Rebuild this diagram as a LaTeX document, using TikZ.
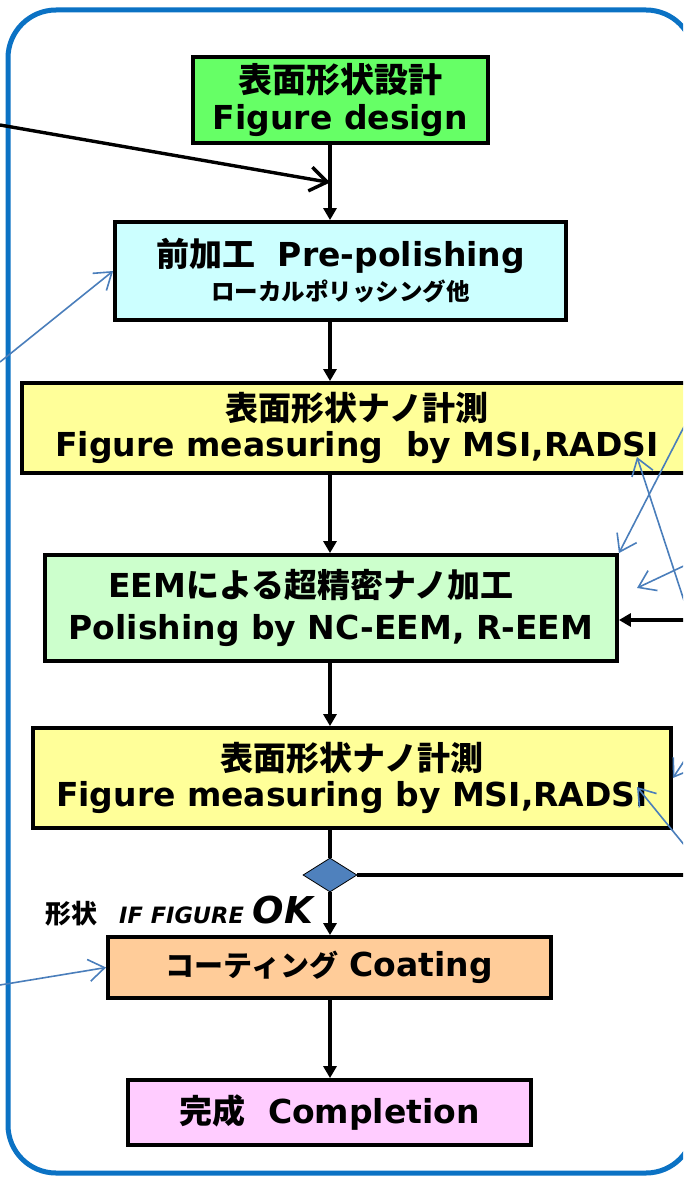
\documentclass[tikz,border=0pt]{standalone}
\usepackage{fontspec}
\setmainfont{DejaVu Sans}
\newfontfamily\jpfont{Noto Sans CJK JP}
\usepackage{tikz}
\usetikzlibrary{arrows.meta,shapes.geometric,calc}

\definecolor{frameblue}{HTML}{0B72C4}
\definecolor{hintblue}{HTML}{4A7EBB}
\definecolor{designgreen}{HTML}{66FF66}
\definecolor{precyan}{HTML}{CCFFFF}
\definecolor{measyellow}{HTML}{FFFF99}
\definecolor{eemgreen}{HTML}{CCFFCC}
\definecolor{coatorange}{HTML}{FFCC99}
\definecolor{donepink}{HTML}{FFCCFF}
\definecolor{judgeblue}{HTML}{4F81BD}

\newcommand{\ja}[1]{{\jpfont #1}}
\newcommand{\fs}[1]{\fontsize{#1}{#1}\selectfont}

\begin{document}
\begin{tikzpicture}[x=1pt,y=-1pt,
   box/.style={draw=black,line width=3.8pt,inner sep=0pt,align=center,
      font=\bfseries\fontsize{33}{36}\selectfont},
   flow/.style={line width=3.4pt,-{Triangle[length=12pt,width=13pt]}},
   hint/.style={hintblue,line width=1.6pt,-{Straight Barb[length=16pt,width=22pt]}}]
   \useasboundingbox (0,0) rectangle (683,1177);
   \clip (0,0) rectangle (683,1177);

   % outer frame
   \draw[frameblue,line width=5pt,rounded corners=48pt] (8,10) rectangle (694,1173);

   % main column
   \node[box,fill=designgreen,minimum width=295pt,minimum height=86pt] (design) at (340.5,100)
      {{\fs{34}\ja{表面形状設計}}\\[1pt]Figure design};
   \node[box,fill=precyan,minimum width=451pt,minimum height=98pt] (prepol) at (340.5,271)
      {\ja{前加工}\ \ Pre-polishing\\[-2pt]{\fs{23.5}\ja{ローカルポリッシング他}}};
   \node[box,fill=measyellow,minimum width=670pt,minimum height=90pt] (meas1) at (357,428)
      {\ja{表面形状ナノ計測}\\Figure measuring\ \ by MSI,RADSI};
   \node[box,fill=eemgreen,minimum width=572pt,minimum height=106pt] (eem) at (331,608)
      {EEM\ja{による超精密ナノ加工}\hspace*{40pt}\\[6pt]Polishing by NC-EEM, R-EEM};
   \node[box,fill=measyellow,minimum width=638pt,minimum height=100pt] (meas2) at (352,778)
      {\ja{表面形状ナノ計測}\\Figure measuring by MSI,RADSI};
   \node[diamond,draw=black,line width=0.8pt,fill=judgeblue,inner sep=0pt,
      minimum width=54pt,minimum height=34pt] (judge) at (330,875) {};
   \node[box,fill=coatorange,minimum width=443pt,minimum height=61pt] (coat) at (329.5,967.5)
      {{\fs{29}\ja{コーティング}} Coating};
   \node[box,fill=donepink,minimum width=403pt,minimum height=65pt] (done) at (329.5,1112.5)
      {\ja{完成}\ \ Completion};

   \node[anchor=base west,inner sep=0pt,font=\bfseries] (ok) at (45,923)
      {{\fs{26}\ja{形状}}\hspace{22pt}{\itshape\fs{22.5}IF FIGURE}\hspace{9pt}{\itshape\fs{37}OK}};

   % flow
   \draw[flow] (design.south -| judge) -- (prepol.north -| judge);
   \draw[flow] (prepol.south -| judge) -- (meas1.north -| judge);
   \draw[flow] (meas1.south -| judge) -- (eem.north -| judge);
   \draw[flow] (eem.south -| judge) -- (meas2.north -| judge);
   \draw[line width=3.4pt] (meas2.south -| judge) -- (judge.north);
   \draw[flow] (judge.south) -- (coat.north -| judge);
   \draw[flow] (coat.south -| judge) -- (done.north -| judge);

   % paths coming in from outside
   \coordinate (inlet) at (0,125);
   \draw[line width=3.4pt,-{Straight Barb[length=17pt,width=24pt]}]
      (inlet) -- ($(design.south -| judge)!.5!(prepol.north -| judge)$);
   \coordinate (back) at (700,620);
   \draw[flow] (back) -- (back -| eem.east);
   \draw[line width=3.4pt] (judge.east) -- (judge.east -| back);

   \coordinate (h1) at (0,362);
   \coordinate (h2) at (690,415);
   \coordinate (h3) at (690,619);
   \coordinate (t3) at (637,457);
   \coordinate (h4) at (690,563);
   \coordinate (t4) at (637,588);
   \coordinate (h5) at (690,752);
   \coordinate (h6) at (690,852);
   \coordinate (t6) at (637,787);
   \coordinate (h7) at (0,985);
   \draw[hint] (h1) -- (prepol.west);
   \draw[hint] (h2) -- (eem.north east);
   \draw[hint] (h3) -- (t3);
   \draw[hint] (h4) -- (t4);
   \draw[hint] (h5) -- (meas2.east);
   \draw[hint] (h6) -- (t6);
   \draw[hint] (h7) -- (coat.west);
\end{tikzpicture}
\end{document}
